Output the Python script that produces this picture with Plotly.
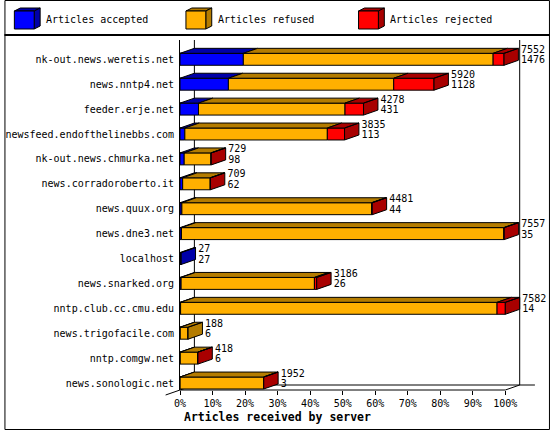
import plotly.graph_objects as go

# servers as listed top to bottom
servers = ["nk-out.news.weretis.net", "news.nntp4.net", "feeder.erje.net",
           "newsfeed.endofthelinebbs.com", "nk-out.news.chmurka.net",
           "news.corradoroberto.it", "news.quux.org", "news.dne3.net", "localhost",
           "news.snarked.org", "nntp.club.cc.cmu.edu", "news.trigofacile.com",
           "nntp.comgw.net", "news.sonologic.net"]
accepted = [1476, 1128, 431, 113, 98, 62, 44, 35, 27, 26, 14, 6, 6, 3]
refused = [5822, 3853, 3415, 3321, 623, 642, 4422, 7512, 0, 3107, 7376, 182, 408, 1944]
rejected = [254, 939, 432, 401, 8, 5, 15, 10, 0, 53, 192, 0, 4, 5]
series_names = ["Articles accepted", "Articles refused", "Articles rejected"]
tick_pct = [0, 10, 20, 30, 40, 50, 60, 70, 80, 90, 100]

front_col = ["#0000FF", "#FFB000", "#FF0000"]
dark_col = ["#0000A8", "#B47C00", "#A80000"]
MONO = "DejaVu Sans Mono"

W, H = 550, 430
L, R, T, B = 177, 5, 40, 40
X_MAX = 112.2          # axis range in % of the biggest server
Y_TOP, Y_BOT = -0.775, 13.281
DX, DY = 4.42, 0.2     # 3d depth in axis units
HALF = 0.24            # half bar height in rows
DYP = 5 / (H - T - B)  # depth in paper units


def px(x):
    return (x - L) / (W - L - R)


def py(y):
    return (H - B - y) / (H - T - B)


totals = [a + f + r for a, f, r in zip(accepted, refused, rejected)]
scale = 100.0 / max(totals)
rows = list(range(len(servers)))
segments = [accepted, refused, rejected]

fig = go.Figure()

# front faces
start = [0] * len(servers)
for k, vals in enumerate(segments):
    fig.add_trace(go.Bar(
        y=rows, x=[v * scale for v in vals], base=[s * scale for s in start],
        orientation='h', width=2 * HALF,
        marker=dict(color=front_col[k], line=dict(color='black', width=1)),
        hoverinfo='skip', name=series_names[k]
    ))
    start = [s + v for s, v in zip(start, vals)]

# top and side faces
faces = [([], []) for _ in segments]
for i in rows:
    pos = 0
    last = 0
    top = i - HALF
    for k, vals in enumerate(segments):
        v = vals[i]
        if v <= 0:
            continue
        x0, x1 = pos * scale, (pos + v) * scale
        xs, ys = faces[k]
        xs += [x0, x1, x1 + DX, x0 + DX, x0, None]
        ys += [top, top, top - DY, top - DY, top, None]
        pos += v
        last = k
    xe = totals[i] * scale
    xs, ys = faces[last]
    xs += [xe, xe + DX, xe + DX, xe, xe, None]
    ys += [i + HALF, i + HALF - DY, top - DY, top, i + HALF, None]

for k, (xs, ys) in enumerate(faces):
    fig.add_trace(go.Scatter(
        x=xs, y=ys, mode='lines', fill='toself', fillcolor=dark_col[k],
        line=dict(color='black', width=1), hoverinfo='skip'
    ))

# value labels (total on top, accepted below)
lab_x = [t * scale + DX + 0.8 for t in totals]
fig.add_trace(go.Scatter(
    x=lab_x, y=[i - 0.36 for i in rows], mode='text', text=[str(t) for t in totals],
    textposition='middle right', textfont=dict(family=MONO, size=10, color='black'),
    cliponaxis=False, hoverinfo='skip'
))
fig.add_trace(go.Scatter(
    x=lab_x, y=[i + 0.06 for i in rows], mode='text', text=[str(a) for a in accepted],
    textposition='middle right', textfont=dict(family=MONO, size=10, color='black'),
    cliponaxis=False, hoverinfo='skip'
))

line = dict(color='black', width=1)
shapes = [
    # 3d frame
    dict(type='line', xref='x', yref='paper', x0=DX, x1=DX, y0=DYP, y1=1, line=line, layer='below'),
    dict(type='line', xref='x', yref='paper', x0=100 + DX, x1=100 + DX, y0=DYP, y1=1, line=line, layer='below'),
    dict(type='line', xref='x', yref='paper', x0=DX, x1=109.1, y0=DYP, y1=DYP, line=line, layer='below'),
    dict(type='line', xref='x', yref='paper', x0=0, x1=100, y0=0, y1=0, line=line, layer='below'),
    dict(type='line', xref='x', yref='paper', x0=100, x1=100 + DX, y0=0, y1=DYP, line=line, layer='below'),
    dict(type='line', xref='paper', yref='paper', x0=-DX / X_MAX, x1=DX / X_MAX, y0=-DYP, y1=DYP,
         line=line, layer='below'),
    # outer border and legend separator
    dict(type='rect', xref='paper', yref='paper', x0=px(0.5), x1=px(549.5), y0=py(0.5), y1=py(429.5),
         line=line),
    dict(type='line', xref='paper', yref='paper', x0=px(0), x1=px(550), y0=py(35), y1=py(35),
         line=dict(color='black', width=2)),
]

annotations = [dict(
    text="<b>Articles received by server</b>", xref='paper', yref='paper',
    x=px(179), y=py(417), xanchor='left', yanchor='middle', showarrow=False,
    font=dict(family=MONO, size=11.5, color='black')
)]

# legend cubes
legend_x = [10, 183, 357]
for k, lx in enumerate(legend_x):
    fx0, fx1, fy0, fy1 = lx, lx + 20, 11, 29
    shapes.append(dict(type='path', xref='paper', yref='paper',
                       path=f"M{px(fx0)},{py(fy0)} L{px(fx1)},{py(fy0)} L{px(fx1 + 6)},{py(fy0 - 3)} "
                            f"L{px(fx0 + 6)},{py(fy0 - 3)} Z",
                       fillcolor=dark_col[k], line=line))
    shapes.append(dict(type='path', xref='paper', yref='paper',
                       path=f"M{px(fx1)},{py(fy0)} L{px(fx1 + 6)},{py(fy0 - 3)} L{px(fx1 + 6)},{py(fy1 - 3)} "
                            f"L{px(fx1)},{py(fy1)} Z",
                       fillcolor=dark_col[k], line=line))
    shapes.append(dict(type='rect', xref='paper', yref='paper', x0=px(fx0), x1=px(fx1),
                       y0=py(fy1), y1=py(fy0), fillcolor=front_col[k], line=line))
    annotations.append(dict(
        text=series_names[k], xref='paper', yref='paper', x=px(lx + 30), y=py(20),
        xanchor='left', yanchor='middle', showarrow=False,
        font=dict(family=MONO, size=10, color='black')
    ))

fig.update_layout(
    width=W, height=H, autosize=False,
    margin=dict(l=L, r=R, t=T, b=B, pad=0),
    barmode='overlay', showlegend=False,
    paper_bgcolor='white', plot_bgcolor='white',
    xaxis=dict(range=[0, X_MAX], tickvals=tick_pct, ticktext=[f"{v}%" for v in tick_pct],
               ticks='outside', ticklen=4, tickcolor='black', showline=False,
               showgrid=False, zeroline=False,
               tickfont=dict(family=MONO, size=10, color='black')),
    yaxis=dict(range=[Y_BOT, Y_TOP], tickvals=rows, ticktext=servers, ticks='',
               showline=True, linecolor='black', linewidth=1, showgrid=False,
               zeroline=False, ticklabelstandoff=3,
               tickfont=dict(family=MONO, size=10, color='black')),
    shapes=shapes, annotations=annotations,
)

fig.write_html("out.html", config={'displayModeBar': False},
               post_script="document.body.style.margin='0';")
